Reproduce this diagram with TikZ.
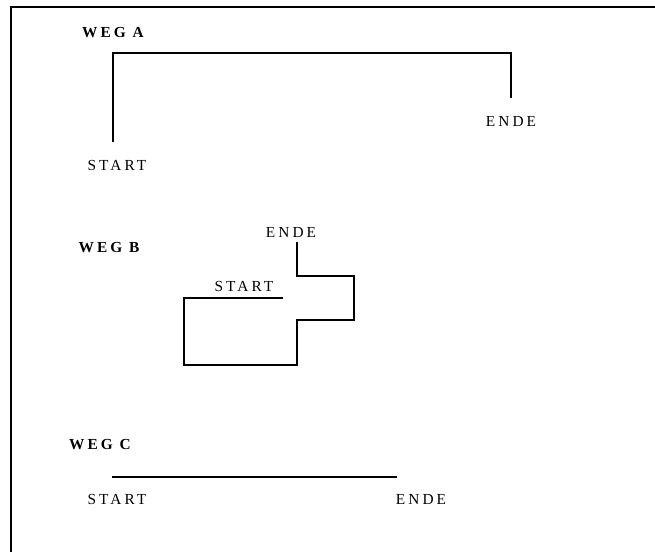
\documentclass[tikz,border=0pt]{standalone}
\usepackage{fontspec}
\setmainfont{Liberation Serif}
\newfontfamily\spaced[LetterSpace=20]{Liberation Serif}
\begin{document}
\begin{tikzpicture}[x=0.75pt,y=-0.75pt,
  lbl/.style={inner sep=0pt,anchor=base,font=\fontsize{11.5}{13}\spaced},
  title/.style={inner sep=0pt,anchor=base,font=\fontsize{11.5}{13}\spaced\bfseries},
  wegline/.style={line width=1.2pt,line cap=butt,line join=miter},
  frameline/.style={line width=1.6pt}]
\useasboundingbox (0,0) rectangle (655,551);
% frame
\coordinate (f1) at (11,560);
\coordinate (f2) at (11,7);
\coordinate (f3) at (665,7);
\draw[frameline] (f1) -- (f2) -- (f3);
% Weg A
\node[title] (wa) at (113,37) {WEG A};
\node[lbl] (sa) at (117,170) {START};
\node[lbl] (ea) at (511,126) {ENDE};
\coordinate (a1) at (113,142);
\coordinate (a2) at (113,53);
\coordinate (a3) at (511,53);
\coordinate (a4) at (511,98);
\draw[wegline] (a1) -- (a2) -- (a3) -- (a4);
% Weg B
\node[title] (wb) at (109,252) {WEG B};
\node[lbl] (eb) at (291,237) {ENDE};
\node[lbl] (sb) at (244,291) {START};
\coordinate (b1) at (297,242);
\coordinate (b2) at (297,276);
\coordinate (b3) at (354,276);
\coordinate (b4) at (354,320);
\coordinate (b5) at (297,320);
\coordinate (b6) at (297,365);
\coordinate (b7) at (184,365);
\coordinate (b8) at (184,298);
\coordinate (b9) at (283,298);
\draw[wegline] (b1) -- (b2) -- (b3) -- (b4) -- (b5) -- (b6) -- (b7) -- (b8) -- (b9);
% Weg C
\node[title] (wc) at (100,449) {WEG C};
\node[lbl] (sc) at (117,504) {START};
\node[lbl] (ec) at (421,504) {ENDE};
\coordinate (c1) at (112,477);
\coordinate (c2) at (397,477);
\draw[wegline] (c1) -- (c2);
\end{tikzpicture}
\end{document}
